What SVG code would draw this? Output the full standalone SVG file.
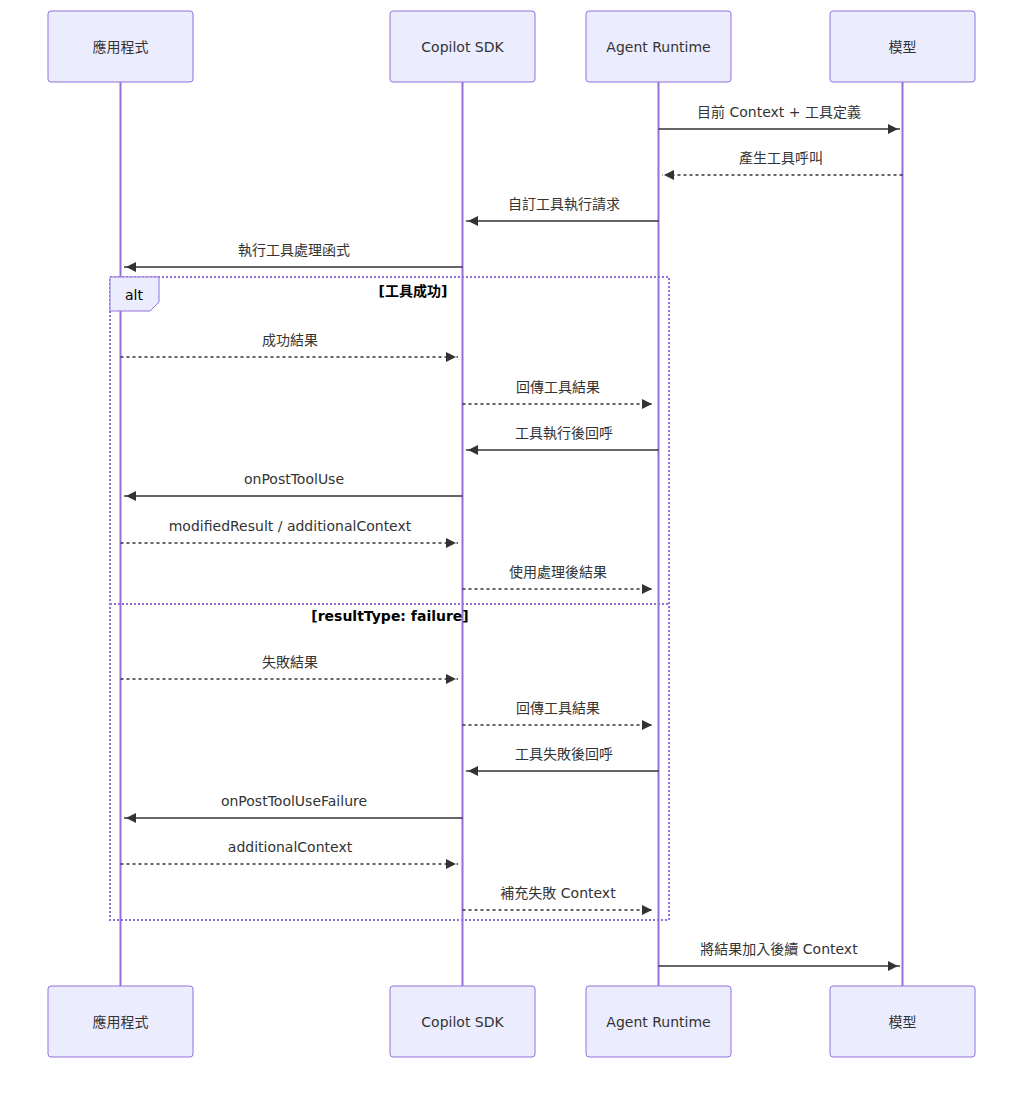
<svg xmlns="http://www.w3.org/2000/svg" width="1024" height="1099" viewBox="0 0 1024 1099">
<style>
.box{fill:#ECECFF;stroke:#9370DB;stroke-width:1}
.life{stroke:#9370DB;stroke-width:2}
.t{font-family:"DejaVu Sans","Noto Sans CJK TC",sans-serif;font-size:14px;fill:#333;text-anchor:middle}
.m{font-family:"DejaVu Sans","Noto Sans CJK TC",sans-serif;font-size:14px;fill:#333;text-anchor:middle}
.s{stroke:#333;stroke-width:1.5;fill:none;marker-end:url(#ah)}
.d{stroke:#333;stroke-width:1.5;fill:none;stroke-dasharray:3,3;marker-end:url(#ah)}
.alt{fill:none;stroke:#9370DB;stroke-width:2;stroke-dasharray:2,2}
.lt{font-family:"DejaVu Sans","Noto Sans CJK TC",sans-serif;font-size:14px;fill:#000;text-anchor:middle;font-weight:bold}
</style>
<defs>
<marker id="ah" viewBox="0 0 12 12" refX="12" refY="5" markerWidth="12" markerHeight="12" markerUnits="userSpaceOnUse" orient="auto"><path d="M0,0 L10,5 L0,10 z" fill="#333"/></marker>
</defs>
<rect width="1024" height="1099" fill="#fff"/>
<g id="lifelines">
<line class="life" x1="120.5" y1="82" x2="120.5" y2="986"/>
<line class="life" x1="462.5" y1="82" x2="462.5" y2="986"/>
<line class="life" x1="658.5" y1="82" x2="658.5" y2="986"/>
<line class="life" x1="902.5" y1="82" x2="902.5" y2="986"/>
</g>
<g id="app"><rect class="box" x="48" y="11" width="145" height="71" rx="3"/><text class="t" x="120.5" y="52">應用程式</text>
<rect class="box" x="48" y="986" width="145" height="71" rx="3"/><text class="t" x="120.5" y="1027">應用程式</text></g>
<g id="sdk"><rect class="box" x="390" y="11" width="145" height="71" rx="3"/><text class="t" x="462.5" y="52">Copilot SDK</text>
<rect class="box" x="390" y="986" width="145" height="71" rx="3"/><text class="t" x="462.5" y="1027">Copilot SDK</text></g>
<g id="runtime"><rect class="box" x="586" y="11" width="145" height="71" rx="3"/><text class="t" x="658.5" y="52">Agent Runtime</text>
<rect class="box" x="586" y="986" width="145" height="71" rx="3"/><text class="t" x="658.5" y="1027">Agent Runtime</text></g>
<g id="model"><rect class="box" x="830" y="11" width="145" height="71" rx="3"/><text class="t" x="902.5" y="52">模型</text>
<rect class="box" x="830" y="986" width="145" height="71" rx="3"/><text class="t" x="902.5" y="1027">模型</text></g>
<g id="alt">
<rect class="alt" x="110" y="277" width="559" height="643"/>
<line class="alt" x1="110" y1="604" x2="669" y2="604"/>
<path d="M110,277 H159 V302 L150,311 H110 Z" fill="#ECECFF" stroke="#9370DB"/>
<text class="lt" x="134" y="300" style="font-weight:normal">alt</text>
<text class="lt" x="413" y="296">[工具成功]</text>
<text class="lt" x="390" y="621">[resultType: failure]</text>
</g>
<g id="connectors">
<line class="s" x1="658.5" y1="129" x2="900" y2="129"/><text class="m" x="779" y="117">目前 Context + 工具定義</text>
<line class="d" x1="902.5" y1="175" x2="662" y2="175"/><text class="m" x="781" y="163">產生工具呼叫</text>
<line class="s" x1="658.5" y1="221" x2="466" y2="221"/><text class="m" x="564" y="209">自訂工具執行請求</text>
<line class="s" x1="462.5" y1="267" x2="124" y2="267"/><text class="m" x="294" y="255">執行工具處理函式</text>
<line class="d" x1="120.5" y1="357" x2="458" y2="357"/><text class="m" x="290" y="345">成功結果</text>
<line class="d" x1="462.5" y1="404" x2="654" y2="404"/><text class="m" x="558" y="392">回傳工具結果</text>
<line class="s" x1="658.5" y1="450" x2="466" y2="450"/><text class="m" x="564" y="438">工具執行後回呼</text>
<line class="s" x1="462.5" y1="496" x2="124" y2="496"/><text class="m" x="294" y="484">onPostToolUse</text>
<line class="d" x1="120.5" y1="543" x2="458" y2="543"/><text class="m" x="290" y="531">modifiedResult / additionalContext</text>
<line class="d" x1="462.5" y1="589" x2="654" y2="589"/><text class="m" x="558" y="577">使用處理後結果</text>
<line class="d" x1="120.5" y1="679" x2="458" y2="679"/><text class="m" x="290" y="667">失敗結果</text>
<line class="d" x1="462.5" y1="725" x2="654" y2="725"/><text class="m" x="558" y="713">回傳工具結果</text>
<line class="s" x1="658.5" y1="771" x2="466" y2="771"/><text class="m" x="564" y="759">工具失敗後回呼</text>
<line class="s" x1="462.5" y1="818" x2="124" y2="818"/><text class="m" x="294" y="806">onPostToolUseFailure</text>
<line class="d" x1="120.5" y1="864" x2="458" y2="864"/><text class="m" x="290" y="852">additionalContext</text>
<line class="d" x1="462.5" y1="910" x2="654" y2="910"/><text class="m" x="558" y="898">補充失敗 Context</text>
<line class="s" x1="658.5" y1="966" x2="900" y2="966"/><text class="m" x="779" y="954">將結果加入後續 Context</text>
</g>
</svg>
